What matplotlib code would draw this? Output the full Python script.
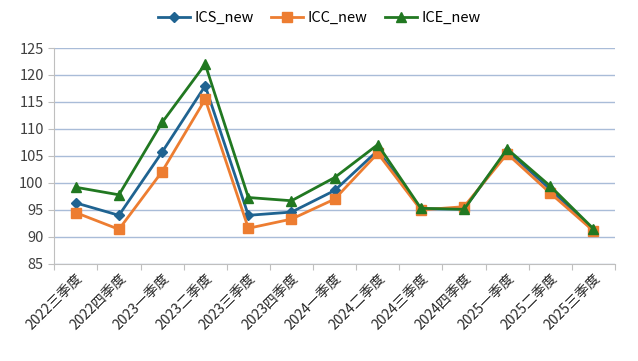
import matplotlib
matplotlib.use("Agg")
import matplotlib.pyplot as plt
import numpy as np

plt.rcParams['font.family'] = ['Noto Sans CJK SC', 'DejaVu Sans']

quarters = ['2022三季度', '2022四季度', '2023一季度', '2023二季度', '2023三季度',
            '2023四季度', '2024一季度', '2024二季度', '2024三季度', '2024四季度',
            '2025一季度', '2025二季度', '2025三季度']
ics_new = [96.3, 94.0, 105.7, 118.0, 94.0, 94.6, 98.6, 106.0, 95.2, 95.2, 106.0, 98.8, 91.3]
icc_new = [94.5, 91.4, 102.1, 115.5, 91.6, 93.3, 97.0, 105.5, 95.0, 95.6, 105.4, 98.1, 91.1]
ice_new = [99.2, 97.8, 111.2, 122.0, 97.3, 96.7, 101.0, 107.1, 95.3, 95.1, 106.3, 99.4, 91.5]
y_ticks = [85, 90, 95, 100, 105, 110, 115, 120, 125]

fig = plt.figure(figsize=(6.38, 3.61), dpi=100)
ax = fig.add_axes([0.085, 0.269, 0.879, 0.598])

x = np.arange(len(quarters))
ax.plot(x, ics_new, color='#1F6391', lw=2, marker='D', ms=5.5, label='ICS_new', zorder=3)
ax.plot(x, icc_new, color='#ED7D31', lw=2, marker='s', ms=6.5, label='ICC_new', zorder=3)
ax.plot(x, ice_new, color='#217821', lw=2, marker='^', ms=7.5, label='ICE_new', zorder=4)

ax.set_ylim(85, 125)
ax.set_yticks(y_ticks)
ax.set_xlim(-0.5, len(quarters) - 0.5)
ax.set_xticks(np.arange(len(quarters) + 1) - 0.5)
ax.set_xticklabels([])
ax.set_xticks(x, minor=True)
ax.set_xticklabels(quarters, minor=True, rotation=45, ha='right',
                   rotation_mode='anchor', fontsize=10, color='#262626')
ax.tick_params(axis='x', which='minor', length=0, pad=5)
ax.tick_params(axis='x', which='major', length=4, color='#BFBFBF')
ax.tick_params(axis='y', length=4, color='#BFBFBF', labelsize=10.5, labelcolor='#404040')

ax.grid(axis='y', color='#A9BCD8', lw=1)
ax.set_axisbelow(True)
for s in ['top', 'right']:
    ax.spines[s].set_visible(False)
ax.spines['left'].set_color('#BFBFBF')
ax.spines['bottom'].set_color('#BFBFBF')

fig.legend(loc='upper center', bbox_to_anchor=(0.5, 1.005), ncol=3, frameon=False,
           fontsize=10.5, handlelength=2.2, handletextpad=0.3, columnspacing=1.2)

fig.savefig('out.png', dpi=100)
